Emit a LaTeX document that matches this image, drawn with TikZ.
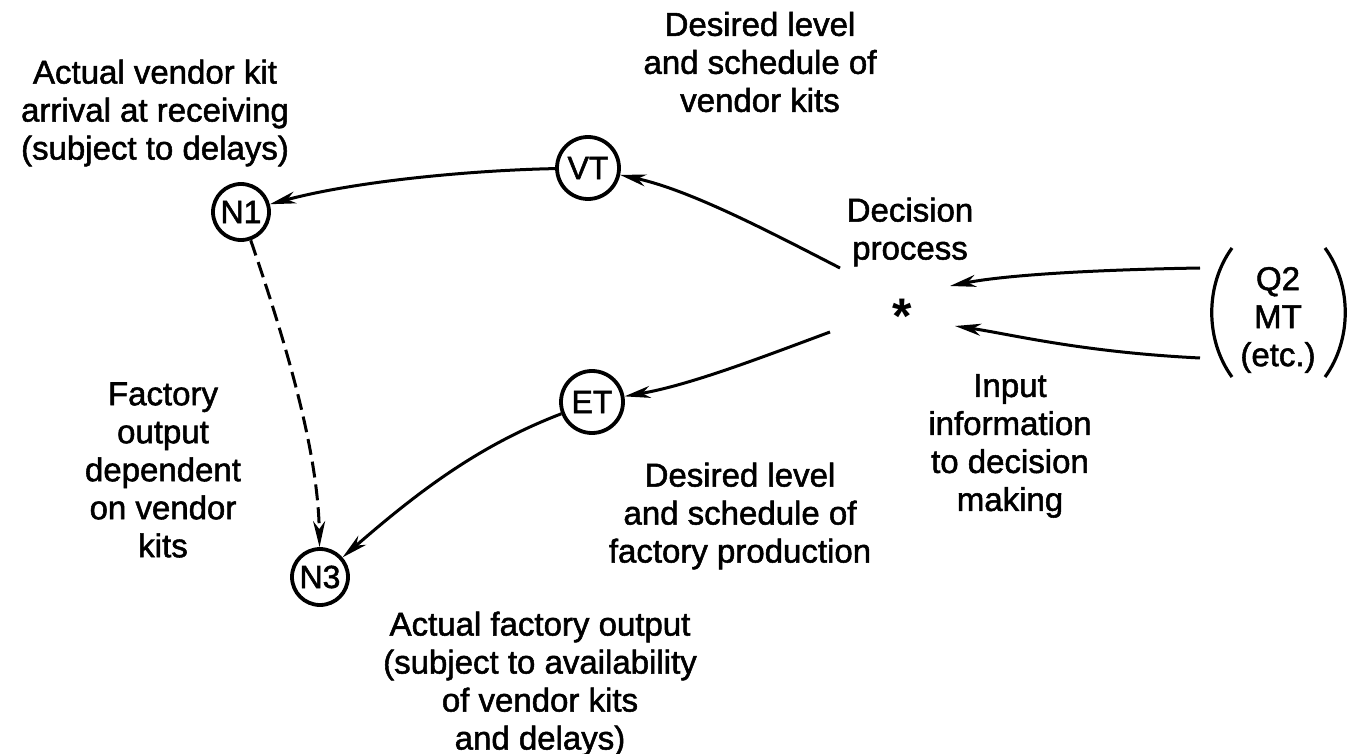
\documentclass[tikz,border=0pt]{standalone}
\usepackage{fontspec}
\setmainfont{Liberation Sans}[FakeBold=1.6]
\newfontfamily\astfont{Liberation Sans Bold}
\usetikzlibrary{arrows.meta}
\begin{document}
\begin{tikzpicture}[x=1pt,y=-1pt,
  every node/.style={font=\fontsize{33}{38}\selectfont},
  lbl/.style={align=center,inner sep=0pt},
  var/.style={circle,draw,line width=3.8pt,minimum size=54pt,inner sep=0pt,font=\fontsize{32}{32}\selectfont},
  conn/.style={line width=3pt,-{Stealth[length=26pt,width=12pt,inset=8pt]}},
  dconn/.style={conn,dash pattern=on 16pt off 7pt}]
\useasboundingbox (0,0) rectangle (1353,754);
\node[var,minimum size=56pt] (N1) at (241,212) {N1};
\node[var,minimum size=62pt] (VT) at (588,168) {VT};
\node[var,minimum size=62pt] (ET) at (592,402) {ET};
\node[var,minimum size=56pt] (N3) at (320,577) {N3};
\node[inner sep=0pt,font=\fontsize{50}{50}\astfont] (dp) at (902,316) {*};
\coordinate (a1) at (840,268);
\coordinate (a2) at (830,332);
\coordinate (b1) at (1200,268);
\coordinate (b2) at (1200,358);
\coordinate (c1) at (950,286);
\coordinate (c2) at (955,326);
% inputs
\node[lbl] (inp) at (1278,320) {Q2\\MT\\(etc.)};
\draw[line width=3.2pt] (1232,248) .. controls (1205,285) and (1205,340) .. (1232,377);
\draw[line width=3.2pt] (1325,248) .. controls (1352,285) and (1352,340) .. (1325,377);
% connectors
\draw[conn] (b1) .. controls (1080,270) and (1000,276) .. (c1);
\draw[conn] (b2) .. controls (1080,352) and (1010,334) .. (c2);
\draw[conn] (a1) .. controls (770,232) and (690,190) .. (VT);
\draw[conn] (a2) .. controls (760,358) and (690,385) .. (ET);
\draw[conn] (VT) .. controls (480,170) and (360,180) .. (N1);
\draw[conn] (ET) .. controls (480,445) and (420,490) .. (N3);
\draw[dconn] (N1) .. controls (285,340) and (318,450) .. (N3);
% labels
\node[lbl] (t1) at (760,62) {Desired level\\and schedule of\\vendor kits};
\node[lbl] (t2) at (155,113) {Actual vendor kit\\arrival at receiving\\(subject to delays)};
\node[lbl] (t3) at (910,232) {Decision\\process};
\node[lbl] (t4) at (1010,446) {Input\\information\\to decision\\making};
\node[lbl] (t5) at (740,516) {Desired level\\and schedule of\\factory production};
\node[lbl] (t6) at (163,470) {Factory\\output\\dependent\\on vendor\\kits};
\node[lbl] (t7) at (540,684) {Actual factory output\\(subject to availability\\of vendor kits\\and delays)};
\end{tikzpicture}
\end{document}
